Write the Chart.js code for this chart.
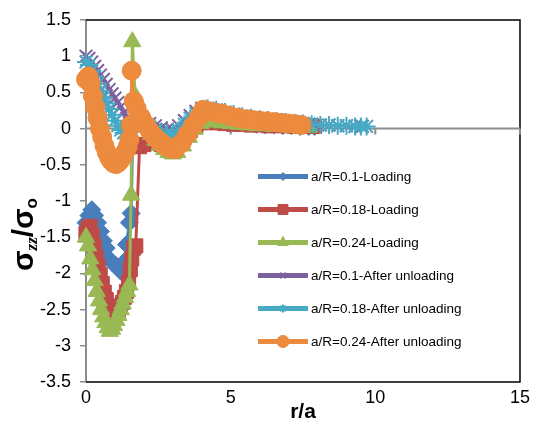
<!DOCTYPE html>
<html>
<head>
<meta charset="utf-8">
<script src="https://cdn.jsdelivr.net/npm/chart.js@4.4.0/dist/chart.umd.min.js"></script>
<style>
  html, body { margin: 0; padding: 0; background: #fff; }
  #wrap { width: 535px; height: 423px; }
</style>
</head>
<body>
<div id="wrap"><canvas id="chart"></canvas></div>
<script>
const labels = [
  'a/R=0.1-Loading', 'a/R=0.18-Loading', 'a/R=0.24-Loading',
  'a/R=0.1-After unloading', 'a/R=0.18-After unloading', 'a/R=0.24-After unloading'
];
const xTicks = [0, 5, 10, 15];
const yTicks = [1.5, 1, 0.5, 0, -0.5, -1, -1.5, -2, -2.5, -3, -3.5];

// a/R=0.1 loading
const x01L = [0, 0.1, 0.2, 0.3, 0.4, 0.5, 0.6, 0.7, 0.8, 0.9, 1.0, 1.1, 1.2, 1.3, 1.4, 1.5, 1.56,
  1.62, 1.75, 1.9, 2.1, 2.3, 2.5, 2.7, 2.9, 3.1, 3.3, 3.5, 3.7, 3.9, 4.1,
  4.4, 4.7, 5.0, 5.3, 5.6, 5.9, 6.2, 6.5, 6.8, 7.1, 7.4, 7.7, 7.9];
const y01L = [-1.3, -1.2, -1.12, -1.2, -1.3, -1.42, -1.55, -1.65, -1.8, -1.85, -1.88, -1.92, -1.97, -1.85, -1.6, -1.3, -1.17,
  0.0, 0.08, 0.06, 0.02, -0.02, -0.05, -0.08, -0.1, -0.08, -0.02, 0.05, 0.1, 0.14, 0.14,
  0.12, 0.1, 0.09, 0.08, 0.07, 0.06, 0.05, 0.05, 0.04, 0.04, 0.03, 0.03, 0.03];

// a/R=0.18 loading
const x018L = [0, 0.07, 0.14, 0.21, 0.28, 0.35, 0.42, 0.49, 0.56, 0.63, 0.7, 0.77, 0.84, 0.91, 0.98, 1.05, 1.12, 1.19, 1.26, 1.33, 1.4, 1.47,
  1.53, 1.58, 1.65, 1.72, 1.85, 2.0, 2.2, 2.4, 2.6, 2.8, 3.0, 3.2, 3.4, 3.6, 3.8, 4.0, 4.2,
  4.5, 4.8, 5.1, 5.4, 5.7, 6.0, 6.3, 6.6, 6.9, 7.2, 7.5, 7.9];
const y018L = [-1.45, -1.38, -1.35, -1.48, -1.62, -1.78, -1.9, -2.02, -2.14, -2.26, -2.36, -2.45, -2.53, -2.57, -2.57, -2.55, -2.5, -2.46, -2.4, -2.33, -2.25, -2.12,
  -1.95, -1.8, -1.65, -1.62, -0.25, -0.22, -0.2, -0.2, -0.22, -0.24, -0.25, -0.2, -0.12, -0.03, 0.04, 0.08, 0.09,
  0.08, 0.07, 0.06, 0.06, 0.05, 0.05, 0.04, 0.04, 0.04, 0.03, 0.03, 0.03];

// a/R=0.24 loading
const x024L = [0, 0.07, 0.15, 0.22, 0.3, 0.37, 0.45, 0.52, 0.6, 0.67, 0.75, 0.82, 0.9, 0.97, 1.05, 1.12, 1.2, 1.27, 1.35, 1.42, 1.5,
  1.56, 1.6, 1.7, 1.8, 1.95, 2.1, 2.25, 2.4, 2.55, 2.7, 2.85, 3.0, 3.15, 3.35, 3.55, 3.75, 3.95, 4.15,
  4.4, 4.7, 5.0, 5.3, 5.6, 5.9, 6.2, 6.5, 6.8, 7.1, 7.4, 7.7];
const y024L = [-1.5, -1.62, -1.8, -1.95, -2.1, -2.25, -2.38, -2.5, -2.6, -2.68, -2.75, -2.8, -2.77, -2.72, -2.65, -2.58, -2.5, -2.42, -2.33, -2.25, -2.16,
  -0.92, 1.2, 0.45, 0.3, 0.14, 0.02, -0.08, -0.16, -0.23, -0.29, -0.33, -0.35, -0.33, -0.24, -0.12, -0.01, 0.07, 0.1,
  0.09, 0.08, 0.07, 0.06, 0.05, 0.04, 0.04, 0.03, 0.03, 0.02, 0.02, 0.02];

// a/R=0.1 after unloading
const x01U = [0, 0.1, 0.2, 0.3, 0.4, 0.5, 0.6, 0.7, 0.8, 0.9, 1.0, 1.1, 1.2, 1.3, 1.4, 1.5,
  1.6, 1.7, 1.85, 2.0, 2.2, 2.4, 2.6, 2.8, 3.0, 3.2, 3.4, 3.6, 3.8, 4.0, 4.2,
  4.5, 4.8, 5.1, 5.4, 5.7, 6.0, 6.3, 6.6, 6.9, 7.2, 7.5, 7.8, 8.1, 8.4, 8.7, 9.0, 9.3, 9.55];
const y01U = [1.0, 0.97, 0.92, 0.86, 0.8, 0.74, 0.68, 0.61, 0.54, 0.48, 0.42, 0.36, 0.3, 0.22, 0.14, 0.08,
  0.12, 0.14, 0.13, 0.1, 0.07, 0.04, 0.01, -0.01, -0.02, 0.04, 0.11, 0.18, 0.24, 0.28, 0.28,
  0.25, 0.22, 0.19, 0.17, 0.15, 0.13, 0.12, 0.1, 0.09, 0.08, 0.07, 0.06, 0.05, 0.05, 0.04, 0.04, 0.03, 0.03];

// a/R=0.18 after unloading
const x018U = [0, 0.1, 0.2, 0.3, 0.4, 0.5, 0.6, 0.7, 0.8, 0.9, 1.0, 1.1, 1.2, 1.3, 1.4, 1.5,
  1.6, 1.7, 1.85, 2.0, 2.2, 2.4, 2.6, 2.8, 3.0, 3.2, 3.4, 3.6, 3.8, 4.0, 4.2,
  4.5, 4.8, 5.1, 5.4, 5.7, 6.0, 6.3, 6.6, 6.9, 7.2, 7.5, 7.8, 8.1, 8.4, 8.7, 9.0, 9.3, 9.5, 9.7];
const y018U = [0.92, 0.88, 0.8, 0.72, 0.62, 0.52, 0.43, 0.35, 0.27, 0.19, 0.11, 0.04, -0.02, -0.06, -0.05, 0.0,
  0.08, 0.1, 0.09, 0.06, 0.02, -0.02, -0.05, -0.07, -0.08, -0.02, 0.06, 0.14, 0.21, 0.26, 0.28,
  0.26, 0.23, 0.2, 0.17, 0.15, 0.13, 0.12, 0.1, 0.09, 0.08, 0.07, 0.06, 0.05, 0.05, 0.04, 0.04, 0.03, 0.03, 0.03];

// a/R=0.24 after unloading
const x024U = [0, 0.08, 0.16, 0.24, 0.32, 0.4, 0.48, 0.56, 0.64, 0.72, 0.8, 0.88, 0.96, 1.04, 1.12, 1.2, 1.28, 1.36, 1.44, 1.5,
  1.55, 1.58, 1.65, 1.75, 1.9, 2.05, 2.2, 2.35, 2.5, 2.65, 2.8, 2.95, 3.1, 3.3, 3.5,
  3.7, 3.9, 4.05, 4.25, 4.5, 4.75, 5.0, 5.25, 5.5, 5.75, 6.0, 6.25, 6.5, 6.75, 7.0, 7.25, 7.45];
const y024U = [0.68, 0.72, 0.62, 0.45, 0.3, 0.15, 0.0, -0.12, -0.24, -0.33, -0.4, -0.45, -0.48, -0.49, -0.47, -0.43, -0.38, -0.32, -0.25, -0.15,
  0.05, 0.8, 0.38, 0.28, 0.16, 0.06, -0.03, -0.1, -0.16, -0.21, -0.25, -0.28, -0.28, -0.2, -0.08,
  0.04, 0.16, 0.26, 0.24, 0.22, 0.2, 0.17, 0.15, 0.13, 0.12, 0.11, 0.1, 0.09, 0.08, 0.07, 0.06, 0.05];

const colors = ['#4A7EBB', '#BE4B48', '#98B954', '#7D60A0', '#46AAC5', '#EC8A3E'];
const styles = ['rectRot', 'rect', 'triangle', 'crossRot', 'star', 'circle'];
const radii = [9, 10, 10, 9, 9, 9.5];
const legendRadii = [4, 7, 6, 4, 4, 6];

const xs = [x01L, x018L, x024L, x01U, x018U, x024U];
const ys = [y01L, y018L, y024L, y01U, y018U, y024U];

const pts = (a, b) => a.map((x, i) => ({ x: x, y: b[i] }));

const datasets = labels.map((name, i) => ({
  label: name,
  data: pts(xs[i], ys[i]),
  showLine: true,
  borderColor: colors[i],
  backgroundColor: colors[i],
  borderWidth: 3,
  pointStyle: styles[i],
  pointRadius: radii[i],
  pointBorderWidth: (i === 3 || i === 4) ? 2 : 1,
  pointBorderColor: colors[i],
  pointBackgroundColor: colors[i],
  clip: false,
  order: 6 - i
}));

// y=0 axis line, plot frame, legend, y title
const extras = {
  id: 'extras',
  beforeDatasetsDraw(chart) {
    const { ctx, chartArea: a, scales: { x, y } } = chart;
    ctx.save();
    ctx.strokeStyle = '#000';
    ctx.lineWidth = 1.5;
    ctx.beginPath();
    ctx.moveTo(a.left, a.top);
    ctx.lineTo(a.right, a.top);
    ctx.lineTo(a.right, a.bottom);
    ctx.lineTo(a.left, a.bottom);
    ctx.stroke();
    const y0 = y.getPixelForValue(0);
    ctx.strokeStyle = '#8c8c8c';
    ctx.lineWidth = 2;
    ctx.beginPath();
    ctx.moveTo(a.left, y0);
    ctx.lineTo(a.right, y0);
    xTicks.forEach(t => {
      const px = x.getPixelForValue(t);
      ctx.moveTo(px, y0);
      ctx.lineTo(px, y0 + 6);
    });
    ctx.stroke();
    ctx.restore();
  },
  afterDraw(chart) {
    const { ctx } = chart;
    ctx.save();
    // legend
    chart.data.datasets.forEach((ds, i) => {
      const cy = 176.5 + i * 33;
      ctx.strokeStyle = ds.borderColor;
      ctx.fillStyle = ds.borderColor;
      ctx.lineWidth = 5;
      ctx.beginPath();
      ctx.moveTo(258, cy);
      ctx.lineTo(308, cy);
      ctx.stroke();
      ctx.lineWidth = (i === 3 || i === 4) ? 2 : 1;
      Chart.helpers.drawPoint(ctx, { pointStyle: ds.pointStyle, radius: legendRadii[i], rotation: 0, borderWidth: ctx.lineWidth }, 283, cy);
      ctx.fillStyle = '#000';
      ctx.font = '13.5px "Liberation Sans"';
      ctx.textAlign = 'left';
      ctx.textBaseline = 'middle';
      ctx.fillText(ds.label, 311, cy + 1);
    });
    // y axis title
    ctx.translate(33, 271);
    ctx.rotate(-Math.PI / 2);
    ctx.fillStyle = '#000';
    ctx.textBaseline = 'alphabetic';
    let px = 0;
    const part = (t, font, dy) => {
      ctx.font = font;
      ctx.fillText(t, px, dy);
      px += ctx.measureText(t).width;
    };
    part('σ', 'bold 30px "Liberation Sans"', 0);
    part('zz', 'italic bold 17px "Liberation Serif"', 4);
    part('/σ', 'bold 30px "Liberation Sans"', 0);
    part('o', 'bold 17px "Liberation Sans"', 4);
    ctx.restore();
  }
};

new Chart(document.getElementById('chart'), {
  type: 'scatter',
  data: { datasets: datasets },
  options: {
    responsive: true,
    maintainAspectRatio: false,
    animation: false,
    layout: { padding: { left: 0, top: 20, right: 11, bottom: 0 } },
    plugins: { legend: { display: false }, tooltip: { enabled: false } },
    scales: {
      x: {
        type: 'linear',
        min: 0, max: 15,
        afterFit: s => { s.height = 41; },
        afterBuildTicks: s => { s.ticks = xTicks.map(v => ({ value: v })); },
        grid: { display: false, drawTicks: false },
        border: { display: false },
        ticks: { padding: 5, color: '#000', font: { family: 'Liberation Sans', size: 18 } },
        title: { display: true, text: 'r/a', color: '#000', padding: { top: 0, bottom: 0 }, font: { family: 'Liberation Sans', size: 21, weight: 'bold', lineHeight: 1 } }
      },
      y: {
        type: 'linear',
        min: -3.5, max: 1.5,
        afterFit: s => { s.width = 86; },
        afterBuildTicks: s => { s.ticks = yTicks.map(v => ({ value: v })); },
        grid: { drawOnChartArea: false, drawTicks: true, tickLength: 6, color: '#8c8c8c', lineWidth: 1.5 },
        border: { display: true, color: '#8c8c8c', width: 2 },
        ticks: { padding: 9, color: '#000', font: { family: 'Liberation Sans', size: 18 }, callback: v => String(v) }
      }
    }
  },
  plugins: [extras]
});
</script>
</body>
</html>
